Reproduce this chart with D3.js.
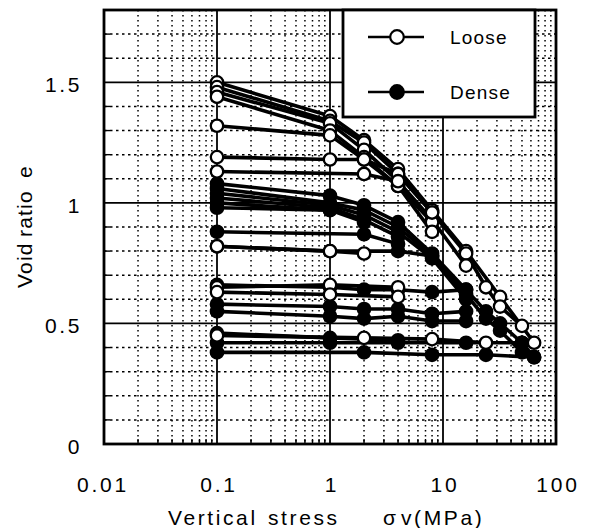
<!DOCTYPE html>
<html>
<head>
<meta charset="utf-8">
<script src="https://cdn.jsdelivr.net/npm/d3@7"></script>
<style>
  html, body { margin: 0; padding: 0; background: #fff; }
  svg { display: block; }
  text { font-family: "Liberation Sans", Arial, Helvetica, sans-serif; fill: #000; }
</style>
</head>
<body>
<svg id="chart" width="589" height="528"></svg>
<script>
// Loading steps (MPa) shared by every test
const stressSteps = [0.1, 1, 2, 4, 8, 16, 24, 32, 50, 64];

// Void ratio at each loading step, one array per test (null = not measured)
const looseTests = [
  [1.50, 1.36, 1.26, 1.14, 0.97, 0.80, null, 0.61, null, 0.42],
  [1.48, 1.34, 1.25, 1.12, 0.96, 0.79, 0.65, 0.57, 0.49, null],
  [1.46, 1.33, 1.22, 1.09, 0.93, 0.74, null, null, null, null],
  [1.44, 1.30, 1.19, 1.07, 0.92, null, null, null, null, null],
  [1.32, 1.28, 1.18, 1.07, 0.88, null, null, null, null, null],
  [1.19, 1.18, 1.18, 1.12, 0.96, null, null, null, null, null],
  [1.13, null, 1.12, 1.09, null, null, null, null, null, null],
  [0.82, 0.80, 0.79, null, null, null, null, null, null, null],
  [0.65, 0.66, null, 0.65, null, null, null, null, null, null],
  [0.63, 0.62, null, 0.61, null, null, null, null, null, null],
  [0.45, null, 0.44, null, 0.435, null, 0.42, null, null, null]
];

const denseTests = [
  [1.08, 1.03, 0.99, 0.92, 0.79, 0.64, 0.55, 0.50, 0.42, 0.36],
  [1.06, 1.00, 0.97, 0.90, 0.78, 0.62, 0.52, 0.47, 0.38, null],
  [1.04, 0.99, 0.95, 0.88, 0.77, 0.60, null, null, null, null],
  [1.02, 0.98, 0.93, 0.86, null, null, null, null, null, null],
  [1.00, 0.97, 0.92, null, null, null, null, null, null, null],
  [0.98, 0.97, null, null, null, null, null, null, null, null],
  [0.88, null, 0.87, 0.83, null, null, null, null, null, null],
  [0.82, 0.80, null, 0.80, 0.78, null, null, null, null, null],
  [0.66, 0.65, 0.64, 0.64, 0.63, 0.64, null, null, null, null],
  [0.58, 0.57, 0.56, 0.56, 0.54, 0.55, null, null, null, null],
  [0.55, 0.53, 0.52, 0.53, 0.51, 0.51, null, null, null, null],
  [0.46, 0.44, null, 0.43, null, null, null, null, null, null],
  [0.42, 0.42, null, 0.42, null, 0.42, null, null, 0.42, null],
  [0.38, null, 0.38, null, 0.37, null, 0.37, null, null, 0.36]
];

const xTickValues = [0.01, 0.1, 1, 10, 100];
const xTickLabels = ["0.01", "0.1", "1", "10", "100"];
const yTickValues = [0, 0.5, 1, 1.5];
const yTickLabels = ["0", "0.5", "1", "1.5"];
const legendLabels = ["Loose", "Dense"];

const svg = d3.select("#chart");
const pLeft = 104, pRight = 556, pTop = 10, pBottom = 444;

const x = d3.scaleLog().domain([0.01, 100]).range([pLeft, pRight]);
const y = d3.scaleLinear().domain([0, 1.8]).range([pBottom, pTop]);

// minor grid: 2..9 of each decade, every 0.1 of void ratio
const minorX = [];
[0.01, 0.1, 1, 10].forEach(d => { for (let k = 2; k <= 9; k++) minorX.push(d * k); });
const minorY = d3.range(1, 18).map(i => i / 10).filter(v => Math.abs(v * 2 - Math.round(v * 2)) > 1e-6);

const grid = svg.append("g");
grid.selectAll("line.mx").data(minorX).join("line")
  .attr("x1", d => x(d)).attr("x2", d => x(d)).attr("y1", pTop).attr("y2", pBottom)
  .attr("stroke", "#000").attr("stroke-width", 1.5).attr("stroke-dasharray", "1.6,3.4");
grid.selectAll("line.my").data(minorY).join("line")
  .attr("y1", d => y(d)).attr("y2", d => y(d)).attr("x1", pLeft).attr("x2", pRight)
  .attr("stroke", "#000").attr("stroke-width", 1.5).attr("stroke-dasharray", "2.5,3.5");

// short inner ticks along the frame
grid.selectAll("line.tx").data(minorX).join("line")
  .attr("x1", d => x(d)).attr("x2", d => x(d)).attr("y1", pBottom).attr("y2", pBottom - 5)
  .attr("stroke", "#000").attr("stroke-width", 1.4);
grid.selectAll("line.ty").data(minorY).join("line")
  .attr("y1", d => y(d)).attr("y2", d => y(d)).attr("x1", pLeft).attr("x2", pLeft + 6)
  .attr("stroke", "#000").attr("stroke-width", 1.4);

// major grid lines
grid.selectAll("line.Mx").data(xTickValues.slice(1, -1)).join("line")
  .attr("x1", d => x(d)).attr("x2", d => x(d)).attr("y1", pTop).attr("y2", pBottom)
  .attr("stroke", "#000").attr("stroke-width", 1.8);
grid.selectAll("line.My").data(yTickValues.slice(1)).join("line")
  .attr("y1", d => y(d)).attr("y2", d => y(d)).attr("x1", pLeft).attr("x2", pRight)
  .attr("stroke", "#000").attr("stroke-width", 1.8);

// tick labels
svg.append("g").selectAll("text").data(xTickValues).join("text")
  .attr("x", (d, i) => x(d) + (i === 0 ? -1 : 2)).attr("y", 492)
  .attr("text-anchor", "middle").attr("font-size", 21).attr("letter-spacing", 2.8)
  .text((d, i) => xTickLabels[i]);
svg.append("g").selectAll("text").data(yTickValues).join("text")
  .attr("x", 82).attr("y", d => y(d) + 10)
  .attr("text-anchor", "end").attr("font-size", 21).attr("letter-spacing", 2.6)
  .text((d, i) => yTickLabels[i]);

// axis titles
const xt = svg.append("text").attr("y", 525).attr("font-size", 21).attr("letter-spacing", 2.6);
xt.append("tspan").attr("x", 168).text("Vertical");
xt.append("tspan").attr("x", 268).text("stress");
xt.append("tspan").attr("x", 383).text("σ");
xt.append("tspan").attr("x", 401).text("v(MPa)");
const yt = svg.append("text").attr("transform", "translate(32,288) rotate(-90)")
  .attr("font-size", 21).attr("letter-spacing", 1.2);
yt.append("tspan").attr("x", 0).text("Void");
yt.append("tspan").attr("x", 51).text("ratio");
yt.append("tspan").attr("x", 110).text("e");

// test curves
const line = d3.line().x(d => x(d.s)).y(d => y(d.e));
const toPts = arr => arr.map((e, i) => ({ s: stressSteps[i], e })).filter(d => d.e != null);

const curves = svg.append("g");
const all = [
  ...denseTests.map(t => ({ pts: toPts(t), fill: "#000" })),
  ...looseTests.map(t => ({ pts: toPts(t), fill: "#fff" }))
];
all.forEach(c => {
  curves.append("path").attr("d", line(c.pts))
    .attr("fill", "none").attr("stroke", "#000").attr("stroke-width", 3.6).attr("stroke-linejoin", "round");
});
all.forEach(c => {
  curves.append("g").selectAll("circle").data(c.pts).join("circle")
    .attr("cx", d => x(d.s)).attr("cy", d => y(d.e)).attr("r", 6.2)
    .attr("fill", c.fill).attr("stroke", "#000").attr("stroke-width", 2.3);
});

// frame
svg.append("rect").attr("x", pLeft).attr("y", pTop).attr("width", pRight - pLeft).attr("height", pBottom - pTop)
  .attr("fill", "none").attr("stroke", "#000").attr("stroke-width", 2.8);

// legend
const lg = svg.append("g");
lg.append("rect").attr("x", 343).attr("y", pTop).attr("width", 192).attr("height", 107)
  .attr("fill", "#fff").attr("stroke", "#000").attr("stroke-width", 2.8);
legendLabels.forEach((lab, i) => {
  const ly = 37 + i * 55;
  lg.append("line").attr("x1", 368).attr("x2", 424).attr("y1", ly).attr("y2", ly)
    .attr("stroke", "#000").attr("stroke-width", 2.4);
  lg.append("circle").attr("cx", 397).attr("cy", ly).attr("r", 6.8)
    .attr("fill", i === 0 ? "#fff" : "#000").attr("stroke", "#000").attr("stroke-width", 2.2);
  lg.append("text").attr("x", 450).attr("y", ly + 7).attr("font-size", 19).attr("letter-spacing", 1.2).text(lab);
});
</script>
</body>
</html>
